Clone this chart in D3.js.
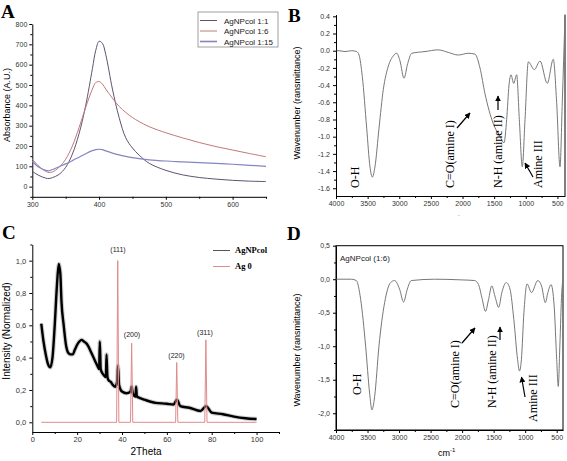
<!DOCTYPE html>
<html><head><meta charset="utf-8">
<script src="https://cdn.jsdelivr.net/npm/d3@7"></script>
<style>
body{margin:0;background:#fff}
svg{display:block}
text{font-family:"Liberation Sans",Arial,sans-serif}
.ser{font-family:"Liberation Serif","Times New Roman",serif}
</style>
</head><body><svg id="c" width="567" height="461"></svg>
<script>
// ---------- Panel A data (UV-Vis) ----------
const uvWavelength = [300,310,320,325,330,340,350,360,370,380,390,395,400,405,410,420,430,440,450,460,475,500,525,550,575,600,625,650];
const uv_1_1  = [75,55,42,40,44,60,95,160,260,400,580,670,715,705,650,480,340,240,190,155,115,80,58,45,37,31,27,25];
const uv_1_6  = [135,100,75,70,72,95,135,200,290,390,480,512,517,505,480,435,395,365,340,320,295,265,240,217,197,180,163,147];
const uv_1_15 = [125,95,80,78,84,98,112,128,145,162,177,182,184,182,176,165,156,149,143,138,132,126,122,118,114,110,105,100];
const uvLegend = ["AgNPcol 1:1","AgNPcol 1:6","AgNPcol 1:15"];
const uvTicksX = [300,400,500,600];
const uvTicksY = [0,100,200,300,400,500,600,700,800];

// ---------- Panel B data (FTIR) ----------
const ftirB_wn  = [3990,3953,3858,3752,3673,3636,3584,3515,3463,3426,3384,3320,3252,3173,3094,3040,2988,2925,2867,2803,2593,2383,2225,2067,1909,1803,1724,1645,1513,1407,1344,1302,1265,1234,1191,1144,1102,1055,1012,960,865,775,660,565,512,459,423,380];
const ftirB_val = [0.0,0.0,-0.01,0.0,-0.01,-0.05,-0.3,-0.9,-1.35,-1.47,-1.35,-0.9,-0.45,-0.18,-0.06,-0.03,-0.12,-0.32,-0.15,-0.03,-0.01,0.01,-0.02,-0.05,-0.03,-0.04,-0.2,-0.5,-0.85,-1.0,-1.07,-0.8,-0.4,-0.28,-0.38,-0.28,-0.8,-1.35,-0.8,-0.13,-0.22,-0.12,-0.38,-0.1,-0.6,-1.35,-0.6,0.4];
const ftirTicksX = [4000,3500,3000,2500,2000,1500,1000,500];
const ftirB_TicksY = [0.4,0.2,0.0,-0.2,-0.4,-0.6,-0.8,-1.0,-1.2,-1.4,-1.6];

// ---------- Panel C data (XRD) ----------
const xrdTheta = [4,5,6,7,8,9,10,11,11.8,12.5,13,14,15,16,17,18,19,20,21,22,23,24,25,26,27,28,29,29.8,30.1,30.5,31,32,32.8,33.1,33.5,34,35,36,37,37.8,38.2,38.7,40,42,43.8,44.3,44.8,46,46.3,46.6,48,50,55,60,63,64.5,66,70,75,77.5,80,85,90,95,100];
const xrdAgNP = [0.61,0.5,0.42,0.36,0.34,0.4,0.6,0.85,0.98,0.92,0.75,0.6,0.48,0.43,0.42,0.42,0.45,0.48,0.5,0.51,0.5,0.49,0.47,0.44,0.41,0.38,0.35,0.33,0.5,0.33,0.31,0.29,0.28,0.42,0.28,0.26,0.25,0.23,0.22,0.25,0.35,0.23,0.19,0.18,0.19,0.22,0.18,0.16,0.22,0.16,0.15,0.14,0.12,0.115,0.11,0.14,0.1,0.09,0.07,0.1,0.06,0.05,0.035,0.025,0.02];
const xrdAgTheta = [4,37.6,38.1,38.6,43.8,44.3,44.8,63.9,64.4,64.9,76.9,77.4,77.9,100];
const xrdAg0     = [0,0,1.0,0,0,0.49,0,0,0.37,0,0,0.51,0,0];
const xrdPeakLabels = ["(111)","(200)","(220)","(311)"];
const xrdLegend = ["AgNPcol","Ag 0"];
const xrdTicksX = [0,20,40,60,80,100];
const xrdTicksY = [0,0.2,0.4,0.6,0.8,1.0];

// ---------- Panel D data (FTIR 1:6) ----------
const ftirD_wn  = [3995,3757,3678,3609,3530,3467,3430,3387,3319,3229,3134,3070,2991,2928,2870,2806,2436,2013,1800,1740,1680,1630,1580,1530,1480,1420,1370,1300,1240,1180,1120,1090,1060,1020,970,900,800,740,680,640,590,540,500,475,450,420,400];
const ftirD_val = [0.0,0.0,-0.02,-0.3,-1.0,-1.7,-1.95,-1.75,-1.0,-0.35,-0.05,-0.02,-0.15,-0.34,-0.15,-0.02,0.0,-0.01,-0.02,-0.08,-0.3,-0.48,-0.3,-0.1,-0.25,-0.42,-0.2,-0.05,-0.15,-0.6,-1.2,-1.37,-1.2,-0.5,-0.07,-0.2,-0.02,-0.1,-0.35,-0.2,-0.08,-0.4,-1.2,-1.6,-1.0,-0.2,0.0];
const ftirD_TicksY = [0.5,0.0,-0.5,-1.0,-1.5,-2.0];

const svg = d3.select("#c");
const fmtInt = d3.format("d");
const fmtDot = (d)=> d3.format(".1f")(d).replace("−","-");
const fmtComma = (d)=> d3.format(".1f")(d).replace("−","-").replace(".",",");

function drawAxis(g, axis, tf, labelSize){
  const a = g.append("g").attr("transform", tf).call(axis);
  a.selectAll("text").style("font-size", labelSize+"px").attr("fill","#333");
  a.selectAll("line").attr("stroke","#000");
  a.select(".domain").attr("stroke","#000");
  return a;
}
function minor(g, axis, tf){
  const a = g.append("g").attr("transform", tf).call(axis.tickFormat(""));
  a.select(".domain").remove();
  a.selectAll("line").attr("stroke","#000");
}
function rotText(x, y, txt, size, cls, anchor){
  return svg.append("text").attr("transform",`translate(${x},${y}) rotate(-90)`)
    .attr("text-anchor",anchor||"middle").attr("class",cls||null)
    .style("font-size",size+"px").text(txt);
}
function panelLetter(x,y,t){
  svg.append("text").attr("x",x).attr("y",y).attr("class","ser")
    .style("font-size","19px").style("font-weight","bold").text(t);
}
function arrow(x1,y1,x2,y2){
  svg.append("line").attr("x1",x1).attr("y1",y1).attr("x2",x2).attr("y2",y2)
    .attr("stroke","#000").attr("stroke-width",1.2).attr("marker-end","url(#ah)");
}
svg.append("defs").append("marker").attr("id","ah").attr("viewBox","0 0 10 10")
  .attr("refX",9).attr("refY",5).attr("markerWidth",5).attr("markerHeight",5).attr("orient","auto")
  .append("path").attr("d","M0,0 L10,5 L0,10 z").attr("fill","#000");

// ================= Panel A =================
{
  const x = d3.scaleLinear([300,650],[32.3,266]);
  const y = d3.scaleLinear([-50,800],[196.8,24]);
  const g = svg.append("g");
  minor(g, d3.axisBottom(x).tickValues([350,450,550,650]).tickSize(2), `translate(0,${y(-50)})`);
  minor(g, d3.axisLeft(y).tickValues([-50,50,150,250,350,450,550,650,750]).tickSize(2), `translate(${x(300)},0)`);
  drawAxis(g, d3.axisBottom(x).tickValues(uvTicksX).tickSize(3).tickSizeOuter(0).tickPadding(2).tickFormat(fmtInt), `translate(0,${y(-50)})`, 7);
  drawAxis(g, d3.axisLeft(y).tickValues(uvTicksY).tickSize(3).tickSizeOuter(0).tickPadding(2).tickFormat(fmtInt), `translate(${x(300)},0)`, 7);
  const cols = ["#5e5470","#c07a7a","#8585c4"];
  const series = [uv_1_1, uv_1_6, uv_1_15];
  const line = d3.line().x((d,i)=>x(uvWavelength[i])).y(d=>y(d)).curve(d3.curveCatmullRom);
  series.forEach((s,k)=>{
    g.append("path").datum(s).attr("d",line).attr("fill","none").attr("stroke",cols[k]).attr("stroke-width",k==2?1.2:1);
  });
  g.append("rect").attr("x",198).attr("y",12).attr("width",80).attr("height",35).attr("fill","#fff").attr("stroke","#888").attr("stroke-width",0.8);
  uvLegend.forEach((t,k)=>{
    const yy = 20.5 + k*10.5;
    g.append("line").attr("x1",200).attr("x2",217).attr("y1",yy).attr("y2",yy).attr("stroke",cols[k]).attr("stroke-width",k==2?1.6:1);
    g.append("text").attr("x",224).attr("y",yy+3).style("font-size","8px").attr("fill","#222").text(t);
  });
  rotText(10, 105, "Absorbance (A.U.)", 9);
  panelLetter(1, 18, "A");
}

// ================= Panel B =================
{
  const x = d3.scaleLinear([4000,380],[336,565]);
  const y = d3.scaleLinear([-1.69,0.42],[196,14.6]);
  const g = svg.append("g");
  g.append("clipPath").attr("id","clipB").append("rect").attr("x",336).attr("y",14.6).attr("width",229).attr("height",181.4);
  minor(g, d3.axisBottom(x).tickValues([3750,3250,2750,2250,1750,1250,750]).tickSize(2), `translate(0,${y(-1.69)})`);
  minor(g, d3.axisLeft(y).tickValues([0.3,0.1,-0.1,-0.3,-0.5,-0.7,-0.9,-1.1,-1.3,-1.5]).tickSize(2), `translate(336,0)`);
  drawAxis(g, d3.axisBottom(x).tickValues(ftirTicksX).tickSize(3).tickSizeOuter(0).tickPadding(2).tickFormat(fmtInt), `translate(0,${y(-1.69)})`, 7);
  drawAxis(g, d3.axisLeft(y).tickValues(ftirB_TicksY).tickSize(3).tickSizeOuter(0).tickPadding(3).tickFormat(fmtDot), `translate(336,0)`, 7);
  g.append("line").attr("x1",565).attr("x2",565).attr("y1",14.6).attr("y2",196).attr("stroke","#000");
  const line = d3.line().x((d,i)=>x(ftirB_wn[i])).y(d=>y(d)).curve(d3.curveMonotoneX);
  g.append("path").datum(ftirB_val).attr("d",line).attr("clip-path","url(#clipB)").attr("fill","none").attr("stroke","#777").attr("stroke-width",1);
  rotText(300, 103, "Wavenumber (ransmittance)", 9);
  rotText(359, 188, "O-H", 12, "ser", "start");
  rotText(454, 188, "C=O(amine I)", 12, "ser", "start");
  rotText(502, 188, "N-H (amine II)", 12, "ser", "start");
  rotText(542, 188, "Amine  III", 12, "ser", "start");
  arrow(457,128,470,113);
  arrow(498,110,498,96);
  arrow(533,177,525,163);
  svg.append("text").attr("x",458).attr("y",216).style("font-size","6px").text(".");
  panelLetter(288, 22, "B");
}

// ================= Panel C =================
{
  const x = d3.scaleLinear([0,110],[32.3,279]);
  const y = d3.scaleLinear([-0.06,1.1],[432,244.5]);
  const g = svg.append("g");
  minor(g, d3.axisBottom(x).tickValues([10,30,50,70,90,110]).tickSize(2), `translate(0,${y(-0.06)})`);
  minor(g, d3.axisLeft(y).tickValues([0.1,0.3,0.5,0.7,0.9,1.1]).tickSize(2), `translate(${x(0)},0)`);
  drawAxis(g, d3.axisBottom(x).tickValues(xrdTicksX).tickSize(3).tickSizeOuter(0).tickPadding(2).tickFormat(fmtInt), `translate(0,${y(-0.06)})`, 7.5);
  drawAxis(g, d3.axisLeft(y).tickValues(xrdTicksY).tickSize(3).tickSizeOuter(0).tickPadding(3).tickFormat(fmtComma), `translate(${x(0)},0)`, 7.5);
  const lineN = d3.line().x((d,i)=>x(xrdTheta[i])).y(d=>y(d)).curve(d3.curveMonotoneX);
  g.append("path").datum(xrdAgNP).attr("d",lineN).attr("fill","none").attr("stroke","#999").attr("stroke-width",4.5).attr("opacity",0.45);
  g.append("path").datum(xrdAgNP).attr("d",lineN).attr("fill","none").attr("stroke","#000").attr("stroke-width",2.4);
  const lineAg = d3.line().x((d,i)=>x(xrdAgTheta[i])).y(d=>y(d));
  g.append("path").datum(xrdAg0).attr("d",lineAg).attr("fill","none").attr("stroke","#e08a8a").attr("stroke-width",1);
  const lp = [[118,251.5],[132,337],[176.5,357.5],[205,334.5]];
  xrdPeakLabels.forEach((t,k)=>{
    g.append("text").attr("x",lp[k][0]).attr("y",lp[k][1]).attr("text-anchor","middle").style("font-size","7px").attr("fill","#222").text(t);
  });
  const lc = ["#555","#e08a8a"];
  xrdLegend.forEach((t,k)=>{
    const yy = 250 + k*16;
    g.append("line").attr("x1",213).attr("x2",230).attr("y1",yy+0.5).attr("y2",yy+0.5).attr("stroke",lc[k]).attr("stroke-width",1);
    g.append("text").attr("x",235).attr("y",yy+3).attr("class","ser").style("font-size","8.5px").style("font-weight","bold").text(t);
  });
  rotText(10, 331, "Intensity (Normalized)", 10);
  g.append("text").attr("x",146).attr("y",455).attr("text-anchor","middle").style("font-size","10px").text("2Theta");
  panelLetter(2, 239, "C");
}

// ================= Panel D =================
{
  const x = d3.scaleLinear([4000,400],[336,563]);
  const y = d3.scaleLinear([-2.25,0.5],[430,245.7]);
  const g = svg.append("g");
  minor(g, d3.axisBottom(x).tickValues([3750,3250,2750,2250,1750,1250,750]).tickSize(2), `translate(0,430)`);
  minor(g, d3.axisLeft(y).tickValues([0.25,-0.25,-0.75,-1.25,-1.75,-2.25]).tickSize(2), `translate(336,0)`);
  drawAxis(g, d3.axisBottom(x).tickValues(ftirTicksX).tickSize(3).tickSizeOuter(0).tickPadding(2).tickFormat(fmtInt), `translate(0,430)`, 7);
  drawAxis(g, d3.axisLeft(y).tickValues(ftirD_TicksY).tickSize(3).tickSizeOuter(0).tickPadding(3).tickFormat(fmtComma), `translate(336,0)`, 7);
  g.append("rect").attr("x",336).attr("y",245.7).attr("width",227).attr("height",184.3).attr("fill","none").attr("stroke","#000");
  const line = d3.line().x((d,i)=>x(ftirD_wn[i])).y(d=>y(d)).curve(d3.curveMonotoneX);
  g.append("path").datum(ftirD_val).attr("d",line).attr("fill","none").attr("stroke","#777").attr("stroke-width",1);
  g.append("text").attr("x",340).attr("y",261).style("font-size","8px").attr("fill","#222").text("AgNPcol (1:6)");
  rotText(300, 350, "Wavenumber (ransmittance)", 9);
  rotText(361, 395, "O-H", 12, "ser", "start");
  rotText(459, 408, "C=O(amine I)", 12, "ser", "start");
  rotText(496, 408, "N-H (amine II)", 12, "ser", "start");
  rotText(537, 422, "Amine  III", 12, "ser", "start");
  arrow(462,343,475,328);
  arrow(500,340,500,327);
  arrow(525,397,521.5,377);
  const t = g.append("text").attr("x",438).attr("y",456).style("font-size","9px");
  t.append("tspan").text("cm");
  t.append("tspan").attr("dy",-4).style("font-size","6px").text("-1");
  panelLetter(287, 240, "D");
}
</script></body></html>
